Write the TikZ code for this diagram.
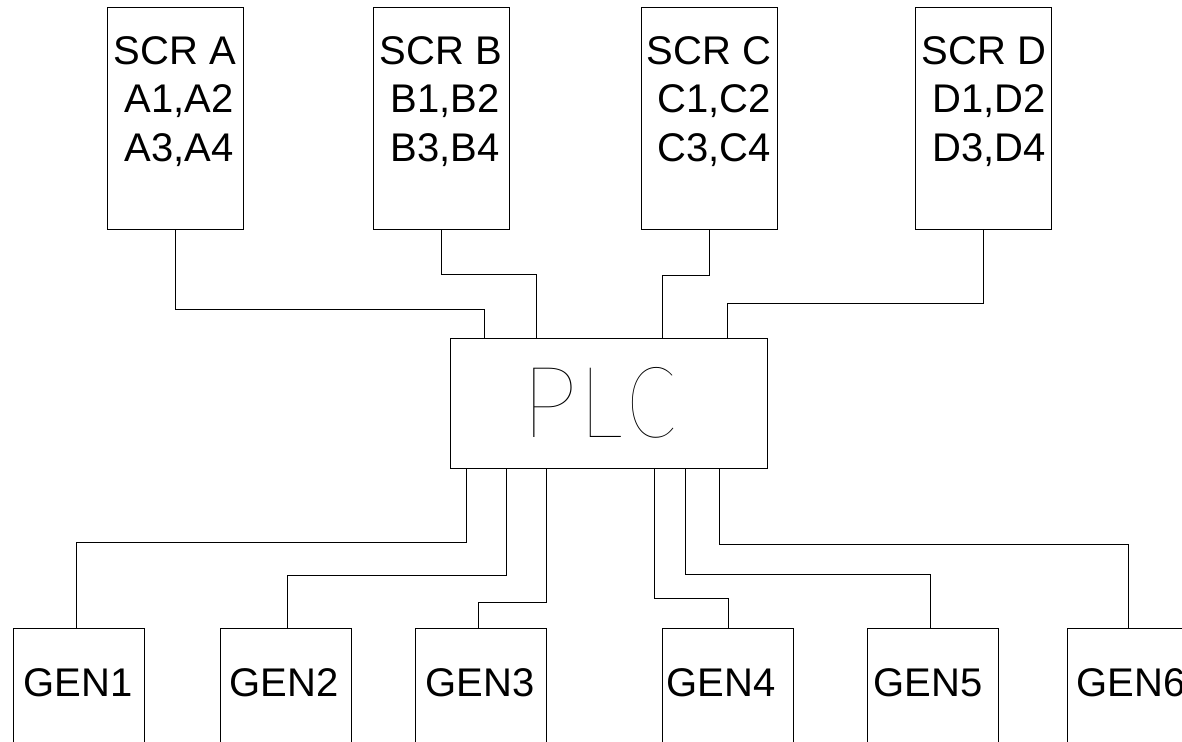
\documentclass[tikz,border=0pt]{standalone}
\usepackage{fontspec}
\setmainfont{Liberation Sans}
\IfFontExistsTF{Lato Hairline}{\newfontfamily\plcfont{Lato Hairline}}{%
  \IfFontExistsTF{DejaVu Sans ExtraLight}{\newfontfamily\plcfont{DejaVu Sans ExtraLight}}{%
    \newfontfamily\plcfont{Liberation Sans}}}
\begin{document}
\begin{tikzpicture}[x=1pt,y=-1pt,
  line width=1pt,
  scrbox/.style={draw, rectangle, inner sep=0pt, minimum width=136pt, minimum height=222pt, anchor=north west},
  genbox/.style={draw, rectangle, inner sep=0pt, minimum width=131pt, minimum height=150pt, anchor=north west},
  plcbox/.style={draw, rectangle, inner sep=0pt, minimum width=317pt, minimum height=130pt, anchor=north west},
  scrtext/.style={inner sep=0pt, anchor=north west, align=left, font=\fontsize{40}{48.5}\selectfont},
  gentext/.style={inner sep=0pt, anchor=base west, font=\fontsize{40}{48}\selectfont},
  wire/.style={draw, line width=1pt}]
\useasboundingbox (0,0) rectangle (1182,741);
\clip (0,0) rectangle (1182,741);
\fill[white] (0,0) rectangle (1182,741);

% SCR boxes
\node[scrbox] (scrA) at (107,7) {};
\node[scrbox] (scrB) at (373,7) {};
\node[scrbox] (scrC) at (641,7) {};
\node[scrbox] (scrD) at (915,7) {};
\node[scrtext] (scrAt) at (113,36) {SCR A\\\hspace*{.278em}A1,A2\\\hspace*{.278em}A3,A4};
\node[scrtext] (scrBt) at (379,36) {SCR B\\\hspace*{.278em}B1,B2\\\hspace*{.278em}B3,B4};
\node[scrtext] (scrCt) at (646,36) {SCR C\\\hspace*{.278em}C1,C2\\\hspace*{.278em}C3,C4};
\node[scrtext] (scrDt) at (921,36) {SCR D\\\hspace*{.278em}D1,D2\\\hspace*{.278em}D3,D4};

% PLC
\node[plcbox] (plc) at (450,338) {};
\node[inner sep=0pt, anchor=west, font=\plcfont\fontsize{99}{99}\selectfont] (plct) at (522,402.5)
  {\makebox[155pt][l]{\rlap{\scalebox{0.98}[1]{P}}\hspace{58pt}\rlap{\scalebox{0.85}[1]{L}}\hspace{47pt}\scalebox{0.73}[1]{C}}};

% GEN boxes
\node[genbox] (gen1) at (13,628) {};
\node[genbox] (gen2) at (220,628) {};
\node[genbox] (gen3) at (415,628) {};
\node[genbox] (gen4) at (662,628) {};
\node[genbox] (gen5) at (867,628) {};
\node[genbox] (gen6) at (1067,628) {};
\node[gentext] (gen1t) at (23,696) {GEN1};
\node[gentext] (gen2t) at (229,696) {GEN2};
\node[gentext] (gen3t) at (425,696) {GEN3};
\node[gentext] (gen4t) at (666,696) {GEN4};
\node[gentext] (gen5t) at (873,696) {GEN5};
\node[gentext] (gen6t) at (1076,696) {GEN6};

% top connectors
\draw[wire] (scrA.south) -- ++(0,79) -| ([xshift=34pt]plc.north west);
\draw[wire] (scrB.south) -- ++(0,44) -| ([xshift=86pt]plc.north west);
\draw[wire] (scrC.south) -- ++(0,45) -| ([xshift=212pt]plc.north west);
\draw[wire] (scrD.south) -- ++(0,73) -| ([xshift=277pt]plc.north west);

% bottom connectors
\coordinate (b1) at ([xshift=16pt]plc.south west);
\coordinate (b2) at ([xshift=56pt]plc.south west);
\coordinate (b3) at ([xshift=96pt]plc.south west);
\coordinate (b4) at ([xshift=204pt]plc.south west);
\coordinate (b5) at ([xshift=235pt]plc.south west);
\coordinate (b6) at ([xshift=269pt]plc.south west);
\draw[wire] (b1) -- ++(0,73) -| ([xshift=-2.5pt]gen1.north);
\draw[wire] (b2) -- ++(0,106) -| ([xshift=1.5pt]gen2.north);
\draw[wire] (b3) -- ++(0,133) -| ([xshift=-2.5pt]gen3.north);
\draw[wire] (b4) -- ++(0,129) -| (gen4.north);
\draw[wire] (b5) -- ++(0,105) -| ([xshift=-2.5pt]gen5.north);
\draw[wire] (b6) -- ++(0,75) -| ([xshift=-4.5pt]gen6.north);
\end{tikzpicture}
\end{document}
